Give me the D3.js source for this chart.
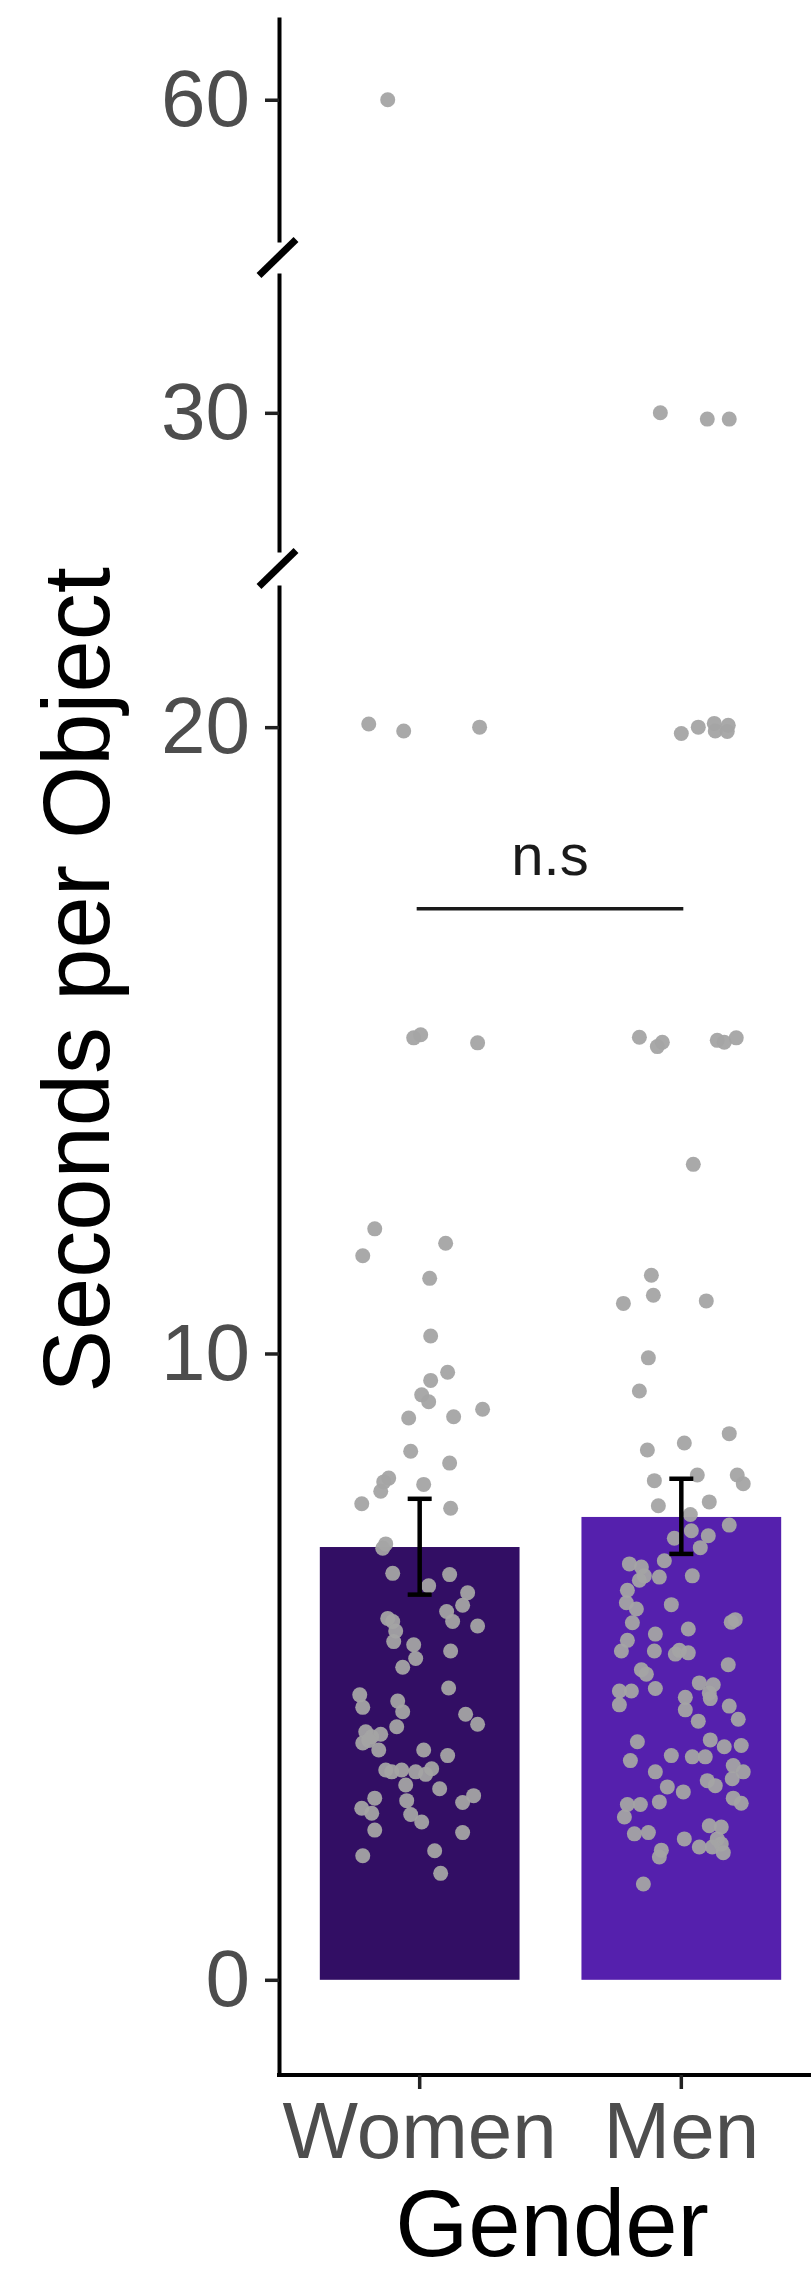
<!doctype html>
<html lang="en">
<head>
<meta charset="UTF-8">
<title>Seconds per Object by Gender</title>
<style>
  html, body { margin: 0; padding: 0; background: #fff; }
  svg { display: block; }
  text { font-family: "Liberation Sans", Arial, Helvetica, sans-serif; }
</style>
</head>
<body>
<svg id="chart" width="811" height="2276"></svg>
<script src="https://cdn.jsdelivr.net/npm/d3@7"></script>
<script>
  // categories and bar summaries
  const categories = ['Women', 'Men']
  const means = [6.91, 7.39]
  const errLow = [6.15, 6.80]
  const errHigh = [7.68, 8.00]
  const barColors = ['#320e64', '#5520ad']

  // raw observations (value) and their horizontal jitter (fraction of bar width)
  const womenValues = [60, 20.05, 19.94, 20.0, 15.04, 15.09, 14.96, 11.99, 11.56, 11.76, 11.2,
    10.28, 9.7, 9.57, 9.34, 9.23, 9.11, 8.99, 8.97, 8.44, 8.25, 8.01, 7.95, 7.8, 7.91, 7.6, 7.53,
    6.96, 6.89, 6.49, 6.47, 6.29, 6.18, 5.98, 5.88, 5.72, 5.65, 5.77, 5.72, 5.57, 5.4, 5.35, 5.25,
    5.13, 4.99, 4.66, 4.55, 4.35, 4.45, 4.28, 4.24, 4.08, 4.04, 3.96, 3.92, 3.88, 3.78, 3.82, 3.67,
    3.67, 3.58, 3.35, 3.32, 3.35, 3.32, 3.28, 3.37, 3.11, 3.05, 2.94, 2.83, 2.9, 2.86, 2.74, 2.66,
    2.64, 2.52, 2.39, 2.35, 1.98, 2.06, 1.7]
  const womenJitter = [-0.16, -0.255, -0.08, 0.30, -0.03, 0.005, 0.29, -0.225, -0.285, 0.13, 0.05,
    0.055, 0.14, 0.055, 0.01, 0.045, 0.315, 0.17, -0.055, -0.045, 0.15, -0.155, -0.18, -0.195, 0.02, -0.29, 0.155,
    -0.17, -0.185, -0.135, 0.15, 0.045, 0.24, 0.215, 0.135, 0.165, 0.29, -0.16, -0.135, -0.12, -0.13, -0.03, 0.155,
    -0.02, -0.085, 0.145, -0.3, -0.285, -0.11, -0.085, 0.23, 0.29, -0.115, -0.27, -0.195, -0.24, -0.285, -0.255, -0.205,
    0.02, 0.14, -0.17, -0.14, -0.09, -0.02, 0.03, 0.06, -0.07, 0.1, 0.27, 0.215, -0.225, -0.065, -0.29, -0.24,
    -0.045, 0.01, -0.225, 0.215, -0.285, 0.075, 0.105]

  const menValues = [30.0, 29.9, 29.9, 19.9, 20.0, 20.06, 19.94, 19.93, 20.03,
    15.05, 14.9, 14.97, 15.0, 14.97, 15.04, 13.02, 11.25, 10.93, 10.8, 10.84,
    9.93, 9.4, 8.72, 8.46, 8.57, 7.97, 8.06, 8.06, 7.92, 7.57, 7.63, 7.43, 7.26, 7.05, 7.17, 7.09, 6.9,
    6.69, 6.64, 6.59, 6.45, 6.38, 6.43, 6.45, 6.22, 6.02, 5.92, 5.99, 5.71, 5.75, 5.7, 5.6, 5.52, 5.42,
    5.25, 5.25, 5.2, 5.26, 5.22, 5.03, 4.95, 4.88, 4.65, 4.61, 4.61, 4.74, 4.71, 4.58, 4.49, 4.51, 4.39,
    4.31, 4.37, 4.16, 4.13, 3.8, 3.83, 3.72, 3.74, 3.5, 3.58, 3.56, 3.56, 3.42, 3.32, 3.32, 3.21, 3.18,
    3.1, 3.08, 3.0, 2.9, 2.82, 2.8, 2.8, 2.84, 2.6, 2.46, 2.44, 2.33, 2.35, 2.25, 2.25, 2.17, 2.12, 2.12,
    2.03, 2.07, 1.96, 1.53]
  const menJitter = [-0.105, 0.13, 0.24, 0.0, 0.085, 0.165, 0.17, 0.23, 0.235,
    -0.21, -0.12, -0.095, 0.18, 0.215, 0.275, 0.06, -0.15, -0.14, -0.29, 0.125,
    -0.165, -0.21, 0.24, -0.17, 0.015, -0.135, 0.08, 0.28, 0.31, -0.115, 0.14, 0.045, 0.24, -0.035, 0.05, 0.135, 0.095,
    -0.085, -0.26, -0.2, -0.185, -0.21, -0.11, 0.055, -0.27, -0.275, -0.225, -0.05, 0.25, 0.27, -0.245, 0.035, -0.13, -0.27,
    -0.3, -0.135, -0.03, -0.01, 0.035, 0.235, -0.2, -0.175, -0.13, -0.31, -0.25, 0.09, 0.16, 0.14, 0.145, 0.02, -0.31,
    0.02, 0.24, 0.285, 0.085, -0.22, 0.145, 0.215, 0.3, -0.255, -0.05, 0.055, 0.12, 0.26, 0.31, -0.13, 0.255, 0.13,
    0.17, -0.07, 0.01, 0.26, 0.3, -0.27, -0.205, -0.11, -0.285, 0.14, 0.2, -0.235, -0.165, 0.015, 0.18, 0.2, 0.09, 0.155,
    0.21, -0.1, -0.11, -0.19]

  // y-axis segments (broken axis) with their tick labels
  const segments = [
    { domain: [57.73, 61.32], range: [242, 17], ticks: [60] },
    { domain: [27.78, 32.23], range: [552, 273], ticks: [30] },
    { domain: [-1.52, 22.27], range: [2075, 585], ticks: [0, 10, 20] }
  ]
  const sigLevel = 17.1
  const sigLabel = 'n.s'

  const svg = d3.select('#chart')
  const axisX = 279

  segments.forEach(s => { s.scale = d3.scaleLinear().domain(s.domain).range(s.range) })
  const low = segments[2].scale

  function yPos(v) {
    const s = segments.find(seg => v >= seg.domain[0] && v <= seg.domain[1]) || segments[2]
    return s.scale(v)
  }

  const x = d3.scaleBand()
    .domain(categories)
    .range([axisX, 822])
    .paddingInner(0.2366)
    .paddingOuter(0.156)

  // bars
  svg.append('g').selectAll('rect')
    .data(categories)
    .join('rect')
    .attr('x', d => x(d))
    .attr('width', x.bandwidth())
    .attr('y', (d, i) => low(means[i]))
    .attr('height', (d, i) => low(0) - low(means[i]))
    .attr('fill', (d, i) => barColors[i])

  // jittered points
  const points = []
  womenValues.forEach((v, i) => points.push({ cat: 'Women', v: v, j: womenJitter[i] }))
  menValues.forEach((v, i) => points.push({ cat: 'Men', v: v, j: menJitter[i] }))

  svg.append('g').selectAll('circle')
    .data(points)
    .join('circle')
    .attr('cx', d => x(d.cat) + x.bandwidth() / 2 + d.j * x.bandwidth())
    .attr('cy', d => yPos(d.v))
    .attr('r', 7.5)
    .attr('fill', '#a4a4a4')
    .attr('fill-opacity', 0.95)

  // error bars
  const eb = svg.append('g').attr('stroke', '#000').attr('stroke-width', 4.5)
  categories.forEach((c, i) => {
    const cx = x(c) + x.bandwidth() / 2
    eb.append('line').attr('x1', cx).attr('x2', cx).attr('y1', low(errLow[i])).attr('y2', low(errHigh[i]))
    eb.append('line').attr('x1', cx - 12).attr('x2', cx + 12).attr('y1', low(errLow[i])).attr('y2', low(errLow[i]))
    eb.append('line').attr('x1', cx - 12).attr('x2', cx + 12).attr('y1', low(errHigh[i])).attr('y2', low(errHigh[i]))
  })

  // significance bracket
  const cW = x('Women') + x.bandwidth() / 2 - 3
  const cM = x('Men') + x.bandwidth() / 2 + 2
  svg.append('line')
    .attr('x1', cW).attr('x2', cM)
    .attr('y1', low(sigLevel)).attr('y2', low(sigLevel))
    .attr('stroke', '#1a1a1a').attr('stroke-width', 3.5)
  svg.append('text')
    .attr('x', (cW + cM) / 2)
    .attr('y', low(sigLevel) - 34)
    .attr('text-anchor', 'middle')
    .attr('font-size', 58)
    .attr('fill', '#1a1a1a')
    .text(sigLabel)

  // y axes, one per segment
  segments.forEach(s => {
    const g = svg.append('g')
      .attr('transform', `translate(${axisX},0)`)
      .call(d3.axisLeft(s.scale).tickValues(s.ticks).tickFormat(d3.format('d'))
        .tickSize(14).tickSizeOuter(0).tickPadding(15))
    g.select('.domain').attr('stroke', '#000').attr('stroke-width', 4)
    g.selectAll('.tick line').attr('stroke', '#222').attr('stroke-width', 3.5)
    g.selectAll('.tick text').attr('font-size', 80).attr('fill', '#4d4d4d')
      .attr('font-family', '"Liberation Sans", Arial, sans-serif')
  })

  // break marks
  const breaks = [
    (segments[0].range[0] + segments[1].range[1]) / 2,
    (segments[1].range[0] + segments[2].range[1]) / 2
  ]
  svg.append('g').selectAll('line')
    .data(breaks)
    .join('line')
    .attr('x1', axisX - 20).attr('x2', axisX + 17)
    .attr('y1', d => d + 18).attr('y2', d => d - 18)
    .attr('stroke', '#000').attr('stroke-width', 7)

  // x axis
  const xa = svg.append('g')
    .attr('transform', `translate(0,${segments[2].range[0]})`)
    .call(d3.axisBottom(x).tickSize(14).tickSizeOuter(0).tickPadding(12))
  xa.select('.domain').attr('d', `M${axisX - 2},0H811`).attr('stroke', '#000').attr('stroke-width', 4)
  xa.selectAll('.tick line').attr('stroke', '#222').attr('stroke-width', 3.5)
  xa.selectAll('.tick text').attr('font-size', 80).attr('fill', '#4d4d4d')
    .attr('font-family', '"Liberation Sans", Arial, sans-serif')

  // axis titles
  svg.append('text')
    .attr('x', 552).attr('y', 2256)
    .attr('text-anchor', 'middle')
    .attr('font-size', 94)
    .attr('fill', '#000')
    .text('Gender')

  svg.append('text')
    .attr('transform', 'translate(109,980) rotate(-90)')
    .attr('text-anchor', 'middle')
    .attr('font-size', 94)
    .attr('fill', '#000')
    .text('Seconds per Object')
</script>
</body>
</html>
